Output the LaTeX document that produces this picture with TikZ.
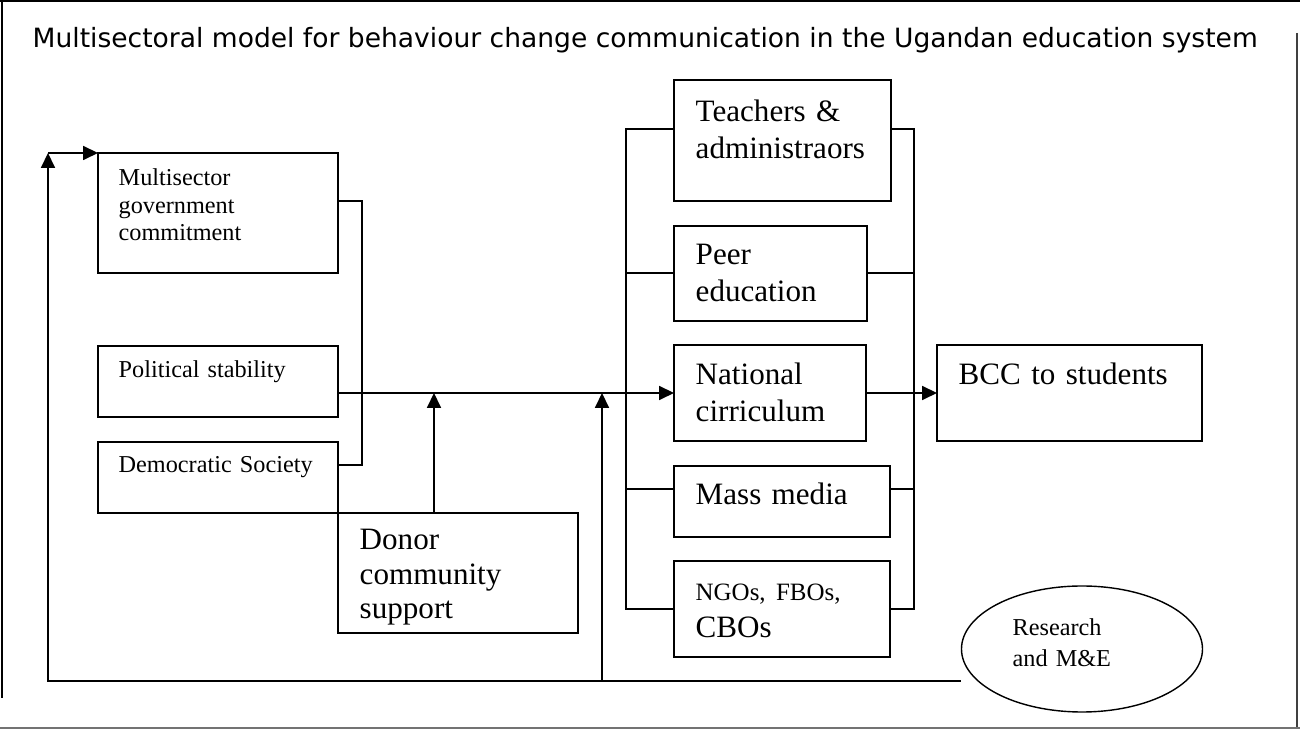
\documentclass[tikz,border=0pt]{standalone}
\usepackage{fontspec}
\setmainfont{Liberation Serif}
\newfontfamily\titlefont{DejaVu Sans}
\usetikzlibrary{arrows.meta,positioning,shapes.geometric}

\begin{document}
\begin{tikzpicture}[x=0.2mm, y=-0.2mm, >={Triangle[length=8.5pt,width=8pt]},
  line width=0.8pt,
  box/.style 2 args={draw, anchor=north west, inner sep=0pt, outer sep=0pt,
    minimum width=#1*0.2mm, minimum height=#2*0.2mm},
  sm/.style={anchor=base west, inner sep=0pt, text width=42mm, align=left, font=\fontsize{13.8}{15.4}\selectfont},
  lg/.style={anchor=base west, inner sep=0pt, text width=42mm, align=left, font=\fontsize{17.7}{21}\selectfont}]
\useasboundingbox (0,0) rectangle (1300,729);
% frame
\draw[line width=1.3pt] (0,1) -- (1300,1);
\draw[line width=1.1pt] (2,0) -- (2,698);
\draw[line width=1.1pt, black!75] (1297,33) -- (1297,729);
\draw[line width=1pt, black!55] (0,728) -- (1300,728);
\node[anchor=base west, inner sep=0pt, font=\titlefont\fontsize{15.1}{16}\selectfont] (title) at (32,48)
  {Multisectoral model for behaviour change communication in the Ugandan education system};

% left side
\node[box={240}{120}] (gov) at (98,153) {};
\node[box={240}{71}] (pol) at (98,346) {};
\node[box={240}{71}] (dem) at (98,442) {};
\node[box={240}{120}] (donor) at (338,513) {};
\node[sm] (gov-t) at ([shift={(20,33)}]gov.north west) {Multisector\\government\\commitment};
\node[sm] (pol-t) at ([shift={(20,32)}]pol.north west) {Political stability};
\node[sm] (dem-t) at ([shift={(20,31)}]dem.north west) {Democratic Society};
\node[lg, font=\fontsize{17.7}{19.5}\selectfont] (donor-t) at ([shift={(21,37)}]donor.north west) {Donor\\community\\support};

% right column
\node[box={217}{121}] (tea) at (674,80) {};
\node[box={193}{95}] (peer) at (674,226) {};
\node[box={192}{96}] (nat) at (674,345) {};
\node[box={216}{71}] (mass) at (674,466) {};
\node[box={216}{96}] (ngo) at (674,561) {};
\node[box={265}{96}] (bcc) at (937,345) {};
\node[draw, ellipse, inner sep=0pt, minimum width=241*0.2mm, minimum height=126*0.2mm] (res) at (1082,649) {};
\node[lg] (tea-t) at ([shift={(21,42)}]tea.north west) {Teachers \&\\administraors};
\node[lg] (peer-t) at ([shift={(21,39)}]peer.north west) {Peer\\education};
\node[lg] (nat-t) at ([shift={(21,40)}]nat.north west) {National\\cirriculum};
\node[lg] (mass-t) at ([shift={(21,39)}]mass.north west) {Mass media};
\node[lg] (ngo-t) at ([shift={(21,40)}]ngo.north west) {{\fontsize{14.2}{15}\selectfont NGOs, FBOs,}\\CBOs};
\node[lg] (bcc-t) at ([shift={(21,40)}]bcc.north west) {BCC to students};
\node[sm, font=\fontsize{13.8}{17.6}\selectfont] (res-t) at (1012,636) {Research\\and M\&E};

% connectors
\coordinate (loop) at (48,153);
\coordinate (rb) at ([shift={(0,32)}]res.west);
\draw ([shift={(0,48)}]gov.north east) -- ++(24,0) |- ([shift={(0,23)}]dem.north east);
\draw[->] (pol.east |- nat.west) -- (nat.west);
\draw[->] ([shift={(96,0)}]donor.north west) -- ([shift={(96,0)}]donor.north west |- nat.west);
\draw[->] (rb) -| (loop);
\draw[->] (loop) -- (gov.north west);
\draw[->] (602,0 |- rb) -- (602,0 |- nat.west);
\draw ([shift={(0,49)}]tea.north west) -- ++(-48,0) |- ([shift={(0,48)}]ngo.north west);
\draw ([shift={(0,47)}]peer.north west) -- ++(-48,0);
\draw ([shift={(0,23)}]mass.north west) -- ++(-48,0);
\draw ([shift={(0,49)}]tea.north east) -- ++(23,0) |- ([shift={(0,48)}]ngo.north east);
\draw ([shift={(0,47)}]peer.north east) -- (914,273);
\draw ([shift={(0,23)}]mass.north east) -- (914,489);
\draw[->] (nat.east) -- (bcc.west);
\end{tikzpicture}
\end{document}
